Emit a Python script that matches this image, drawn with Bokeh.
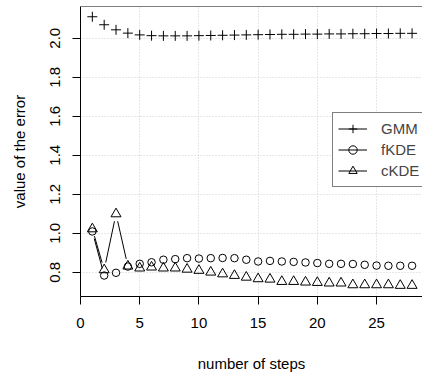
import math
from bokeh.plotting import figure
from bokeh.models import (Range1d, SingleIntervalTicker, Span, Legend, LegendItem,
                          ColumnDataSource, PrintfTickFormatter)
from bokeh.embed import file_html
from bokeh.resources import INLINE

steps = list(range(1, 29))
gmm = [2.110, 2.069, 2.043, 2.026, 2.017, 2.013, 2.012, 2.012, 2.012, 2.013,
       2.014, 2.015, 2.016, 2.017, 2.018, 2.019, 2.020, 2.020, 2.021, 2.021,
       2.022, 2.022, 2.023, 2.023, 2.024, 2.024, 2.025, 2.025]
fkde = [1.009, 0.783, 0.797, 0.829, 0.843, 0.851, 0.864, 0.867, 0.872, 0.870,
        0.872, 0.873, 0.872, 0.864, 0.855, 0.858, 0.855, 0.853, 0.850, 0.847,
        0.843, 0.843, 0.842, 0.838, 0.834, 0.833, 0.833, 0.833]
ckde = [1.022, 0.812, 1.099, 0.831, 0.821, 0.826, 0.821, 0.821, 0.815, 0.809,
        0.800, 0.791, 0.783, 0.774, 0.766, 0.764, 0.752, 0.752, 0.749, 0.747,
        0.744, 0.744, 0.735, 0.735, 0.735, 0.735, 0.732, 0.732]

X0, X1 = 0, 28.88
Y0, Y1 = 0.6754, 2.1626
W, H = 422, 376
TOP, LEFT, BOTTOM = 6, 80, 80
FRAME_W = W - LEFT
FRAME_H = H - TOP - BOTTOM
FONT = "Liberation Sans"

p = figure(width=W, height=H, output_backend="svg", toolbar_location=None,
           x_range=Range1d(X0, X1), y_range=Range1d(Y0, Y1),
           min_border_top=TOP, min_border_right=0, min_border_left=LEFT,
           min_border_bottom=BOTTOM)
p.title.visible = False
p.outline_line_color = None
p.background_fill_color = "white"
p.border_fill_color = "white"

for ax in (p.xaxis[0], p.yaxis[0]):
    ax.major_tick_out = 8
    ax.major_tick_in = 0
    ax.minor_tick_out = 0
    ax.minor_tick_in = 0
    ax.major_label_text_font = FONT
    ax.major_label_text_font_size = "15px"
    ax.major_label_text_color = "black"
    ax.axis_label_text_font = FONT
    ax.axis_label_text_font_size = "15px"
    ax.axis_label_text_font_style = "normal"
    ax.axis_label_text_color = "black"
    ax.axis_line_color = "black"
    ax.major_tick_line_color = "black"

p.xaxis[0].ticker = SingleIntervalTicker(interval=5, num_minor_ticks=0)
p.yaxis[0].ticker = SingleIntervalTicker(interval=0.2, num_minor_ticks=0)
p.yaxis[0].formatter = PrintfTickFormatter(format="%.1f")
p.xaxis[0].axis_label = "number of steps"
p.yaxis[0].axis_label = "value of the error"
p.xaxis[0].major_label_standoff = 13
p.xaxis[0].axis_label_standoff = 24
p.yaxis[0].major_label_standoff = 12
p.yaxis[0].axis_label_standoff = 20
p.yaxis[0].major_label_orientation = "parallel"

p.grid.grid_line_color = "#cfcfcf"
p.grid.grid_line_dash = "1 2"
p.grid.grid_line_width = 1

p.add_layout(Span(location=Y1, dimension="width", line_color="black", line_width=1))

sx = FRAME_W / (X1 - X0)
sy = FRAME_H / (Y1 - Y0)
GAP = 7.5


def gapped(xs, ys):
    x0s, y0s, x1s, y1s = [], [], [], []
    for i in range(len(xs) - 1):
        dx, dy = xs[i + 1] - xs[i], ys[i + 1] - ys[i]
        L = math.hypot(dx * sx, dy * sy)
        if L > 2 * GAP:
            t = GAP / L
            x0s.append(xs[i] + t * dx)
            y0s.append(ys[i] + t * dy)
            x1s.append(xs[i + 1] - t * dx)
            y1s.append(ys[i + 1] - t * dy)
    if not x0s:
        # zero-length placeholder so the legend can still draw the line sample
        x0s, y0s, x1s, y1s = [xs[0]], [ys[0]], [xs[0]], [ys[0]]
    return ColumnDataSource(dict(x0=x0s, y0=y0s, x1=x1s, y1=y1s))


items = []
for label, vals, marker, size in (("GMM", gmm, "cross", 10),
                                  ("fKDE", fkde, "circle", 7.5),
                                  ("cKDE", ckde, "triangle", 10)):
    seg = p.segment("x0", "y0", "x1", "y1", source=gapped(steps, vals),
                    line_color="black", line_width=1, line_cap="butt")
    sc = p.scatter(steps, vals, marker=marker, size=size, line_color="black",
                   fill_color=None, line_width=1)
    items.append(LegendItem(label=label, renderers=[seg, sc]))

legend = Legend(items=items, location=(252, 109))
legend.label_text_font = FONT
legend.label_text_font_size = "15px"
legend.glyph_width = 29
legend.glyph_height = 21
legend.label_height = 21
legend.label_standoff = 14
legend.padding = 5
legend.spacing = 0
legend.margin = 0
legend.border_line_color = "black"
legend.border_line_width = 1
legend.background_fill_alpha = 1.0
p.add_layout(legend)

open("out.html", "w").write(file_html(p, INLINE))
